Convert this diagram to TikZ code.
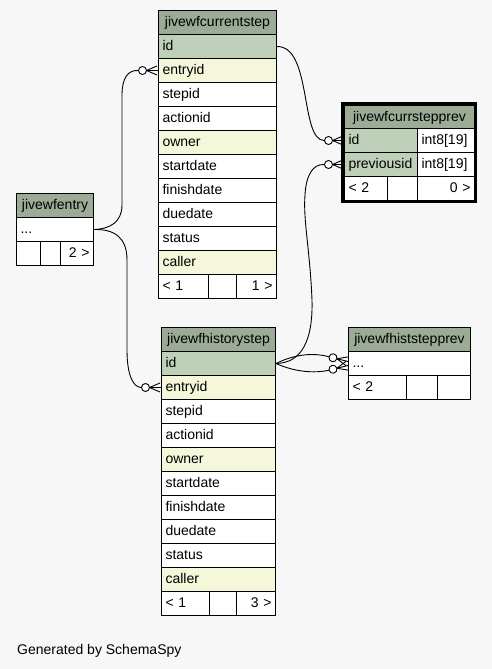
\documentclass[tikz,border=0pt]{standalone}
\usepackage{fontspec}
\setmainfont{Liberation Sans}
\usetikzlibrary{calc}
\definecolor{bgc}{HTML}{F7F7F7}
\definecolor{hdrc}{HTML}{9BAB96}
\definecolor{keyc}{HTML}{BED1B8}
\definecolor{fkc}{HTML}{F4F7DA}
\tikzset{
  cell/.style={draw=black, line width=1pt, anchor=north west, minimum height=24pt,
    inner xsep=4pt, inner ysep=0pt, text height=11pt, text depth=3pt,
    font=\fontsize{14}{16}\selectfont, fill=white, align=left},
  hdr/.style={cell, fill=hdrc, align=center},
  keyrow/.style={cell, fill=keyc},
  fkrow/.style={cell, fill=fkc},
  rfoot/.style={cell, align=right},
  conn/.style={draw=black, line width=0.9pt},
  crowodot/.pic={
    \draw[line width=0.9pt] (-11.5,0) -- (-1,-4.5) (-11.5,0) -- (-1,4.5);
    \draw[line width=0.9pt, fill=white] (-15.5,0) circle[radius=4pt];
  }
}
\begin{document}
\begin{tikzpicture}[x=1pt,y=-1pt]
\useasboundingbox (0,0) rectangle (492,669);
\fill[bgc] (0,0) rectangle (492,669);

% jivewfcurrentstep
\node[hdr, text width=110pt] (cs-h) at (158,10) {jivewfcurrentstep};
\node[keyrow, text width=110pt] (cs-id) at (158,34) {id};
\node[fkrow, text width=110pt] (cs-entryid) at (158,58) {entryid};
\node[cell, text width=110pt] (cs-stepid) at (158,82) {stepid};
\node[cell, text width=110pt] (cs-actionid) at (158,106) {actionid};
\node[fkrow, text width=110pt] (cs-owner) at (158,130) {owner};
\node[cell, text width=110pt] (cs-startdate) at (158,154) {startdate};
\node[cell, text width=110pt] (cs-finishdate) at (158,178) {finishdate};
\node[cell, text width=110pt] (cs-duedate) at (158,202) {duedate};
\node[cell, text width=110pt] (cs-status) at (158,226) {status};
\node[fkrow, text width=110pt] (cs-caller) at (158,250) {caller};
\node[cell, text width=42pt] (cs-f1) at (158,274) {< 1};
\node[cell, text width=20pt] (cs-f2) at (208,274) {};
\node[rfoot, text width=32pt] (cs-f3) at (236,274) {1 >};

% jivewfhistorystep
\node[hdr, text width=106pt] (hs-h) at (161,327) {jivewfhistorystep};
\node[keyrow, text width=106pt] (hs-id) at (161,351) {id};
\node[fkrow, text width=106pt] (hs-entryid) at (161,375) {entryid};
\node[cell, text width=106pt] (hs-stepid) at (161,399) {stepid};
\node[cell, text width=106pt] (hs-actionid) at (161,423) {actionid};
\node[fkrow, text width=106pt] (hs-owner) at (161,447) {owner};
\node[cell, text width=106pt] (hs-startdate) at (161,471) {startdate};
\node[cell, text width=106pt] (hs-finishdate) at (161,495) {finishdate};
\node[cell, text width=106pt] (hs-duedate) at (161,519) {duedate};
\node[cell, text width=106pt] (hs-status) at (161,543) {status};
\node[fkrow, text width=106pt] (hs-caller) at (161,567) {caller};
\node[cell, text width=40pt] (hs-f1) at (161,591) {< 1};
\node[cell, text width=19pt] (hs-f2) at (209,591) {};
\node[rfoot, text width=31pt] (hs-f3) at (236,591) {3 >};

% jivewfentry
\node[hdr, text width=69pt] (en-h) at (16,193) {jivewfentry};
\node[cell, text width=69pt] (en-dots) at (16,217) {...};
\node[cell, text width=16pt] (en-f1) at (16,241) {};
\node[cell, text width=12pt] (en-f2) at (40,241) {};
\node[rfoot, text width=25pt] (en-f3) at (60,241) {2 >};

% jivewfhiststepprev
\node[hdr, text width=114pt] (hp-h) at (348,327) {jivewfhiststepprev};
\node[cell, text width=114pt] (hp-dots) at (348,351) {...};
\node[cell, text width=50pt] (hp-f1) at (348,375) {< 2};
\node[cell, text width=23pt] (hp-f2) at (406,375) {};
\node[cell, text width=25pt] (hp-f3) at (437,375) {};

% jivewfcurrstepprev
\node[hdr, text width=122pt, minimum height=23pt] (cp-h) at (344,105) {jivewfcurrstepprev};
\node[keyrow, text width=65pt] (cp-id) at (344,128) {id};
\node[cell, text width=49pt] (cp-idt) at (417,128) {int8[19]};
\node[keyrow, text width=65pt] (cp-prev) at (344,152) {previousid};
\node[cell, text width=49pt] (cp-prevt) at (417,152) {int8[19]};
\node[cell, text width=35pt] (cp-f1) at (344,176) {< 2};
\node[cell, text width=22pt] (cp-f2) at (387,176) {};
\node[rfoot, text width=49pt] (cp-f3) at (417,176) {0 >};
\draw[line width=3pt] (342.5,103.5) rectangle (475.5,201.5);

% connectors
\draw[conn] (en-dots.east) .. controls (110,229) and (122,222) .. (122,205)
  -- (122,95) .. controls (122,78) and (128,70) .. ($(cs-entryid.west)+(-20,0)$) -- (cs-entryid.west);
\draw[conn] (en-dots.east) .. controls (115,229) and (127,238) .. (127,260)
  -- (127,350) .. controls (127,375) and (133,387) .. ($(hs-entryid.west)+(-20,0)$) -- (hs-entryid.west);
\draw[conn] (cs-id.east) .. controls (312,46) and (300,140) .. ($(cp-id.west)+(-20,0)$) -- (cp-id.west);
\draw[conn] (hs-id.east) .. controls (302,363) and (313,340) .. (312,300)
  .. controls (310,250) and (303,220) .. (305,195)
  .. controls (306,175) and (313,164) .. ($(cp-prev.west)+(-20,0)$) -- (cp-prev.west);
\coordinate (hpu) at ($(hp-dots.west)+(0,-2)$);
\coordinate (hpl) at ($(hp-dots.west)+(0,2)$);
\draw[conn] (hs-id.east) .. controls (295,354) and (314,352.6) .. ($(hpu)+(-19.4,-4.8)$) -- (hpu);
\draw[conn] (hs-id.east) .. controls (295,372) and (314,373.4) .. ($(hpl)+(-19.4,4.8)$) -- (hpl);

\pic at (cs-entryid.west) {crowodot};
\pic at (hs-entryid.west) {crowodot};
\pic at (cp-id.west) {crowodot};
\pic at (cp-prev.west) {crowodot};
\pic[rotate=-14] at (hpu) {crowodot};
\pic[rotate=14] at (hpl) {crowodot};

\node[anchor=base west, inner sep=0pt, font=\fontsize{14}{16}\selectfont] (gen) at (17,654) {Generated by SchemaSpy};
\end{tikzpicture}
\end{document}
